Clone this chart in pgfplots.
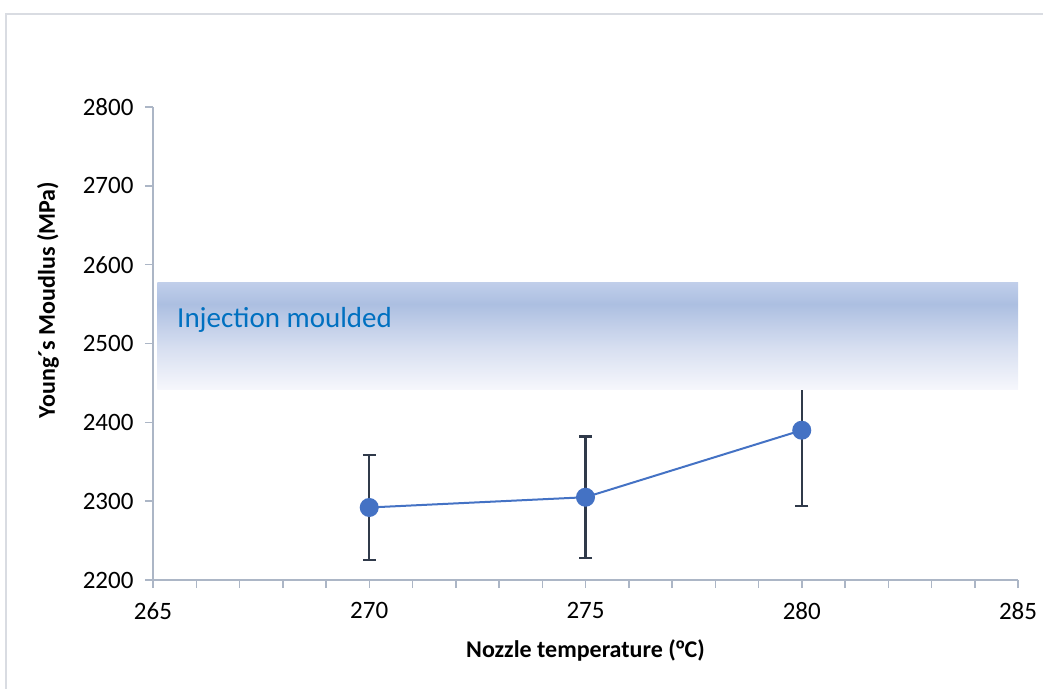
\documentclass[border=0pt]{standalone}
\usepackage{fontspec}
\setmainfont{Carlito}
\newfontfamily\ordfont{Liberation Sans}
\usepackage{pgfplots}
\pgfplotsset{compat=1.18}

\definecolor{axisgray}{RGB}{172,182,198}
\definecolor{framegray}{RGB}{217,220,226}
\definecolor{serieblue}{RGB}{68,114,196}
\definecolor{errdark}{RGB}{48,58,74}
\definecolor{labelblue}{RGB}{0,112,192}
\definecolor{bandlow}{RGB}{246,247,252}
\definecolor{bandmid}{RGB}{214,222,240}
\definecolor{bandpeak}{RGB}{172,191,225}
\definecolor{bandtop}{RGB}{192,206,234}

% vertical gradient of the band (path spans 25bp..75bp)
\pgfdeclareverticalshading{moulded}{100bp}{%
  color(0bp)=(bandlow); color(25bp)=(bandlow); color(45bp)=(bandmid);
  color(65bp)=(bandpeak); color(75bp)=(bandtop); color(100bp)=(bandtop)}

\begin{document}
\begin{tikzpicture}
\path[use as bounding box] (0pt,0pt) rectangle (1043pt,-688pt);
\clip (0pt,0pt) rectangle (1043pt,-688pt);
\draw[framegray, line width=1.3pt] (6pt,-14pt) rectangle (1070pt,-720pt);
\begin{axis}[
  at={(153pt,-580pt)}, anchor=south west,
  scale only axis, width=865pt, height=473pt,
  xmin=265, xmax=285, ymin=2200, ymax=2800,
  xtick={265,270,...,285},
  minor xtick={266,267,268,269,271,272,273,274,276,277,278,279,281,282,283,284},
  ytick={2200,2300,...,2800},
  axis x line*=bottom, axis y line*=left,
  axis line style={axisgray, line width=1.5pt, -},
  every tick/.style={axisgray, line width=1.5pt},
  major tick length=8pt, minor tick length=8pt,
  tick align=outside,
  /pgf/number format/1000 sep={},
  /pgf/number format/assume math mode=true,
  ticklabel style={font=\fontsize{25}{30}\selectfont, black},
  yticklabel style={xshift=-8pt},
  xticklabel style={yshift=-11pt},
  xlabel={Nozzle temperature ({\ordfont º}C)},
  ylabel={Young´s Moudlus (MPa)},
  label style={font=\fontsize{24}{29}\selectfont\bfseries},
  xlabel style={at={(axis description cs:0.5,-0.148)}, anchor=center},
  ylabel style={at={(axis description cs:-0.1214,0.592)}, anchor=center},
  clip=false,
]
\addplot[serieblue, line width=2pt, mark=*, mark size=8.5pt,
  mark options={fill=serieblue, draw=serieblue},
  error bars/.cd, y dir=both, y explicit,
  error bar style={errdark, line width=2.3pt},
  error mark options={rotate=90, mark size=6.5pt, errdark, line width=2.3pt}]
  coordinates {
    (270,2292) +- (0,67)
    (275,2305) +- (0,77)
    (280,2390) +- (0,96)
  };
% injection moulded reference range
\addplot[draw=none, shading=moulded, forget plot]
  coordinates {(265.1,2442) (285,2442) (285,2577) (265.1,2577)} -- cycle;
\node[anchor=west, text=labelblue, font=\fontsize{29}{35}\selectfont, inner sep=0pt]
  at (axis cs:265.555,2530) {Injection moulded};
\end{axis}
\end{tikzpicture}
\end{document}
